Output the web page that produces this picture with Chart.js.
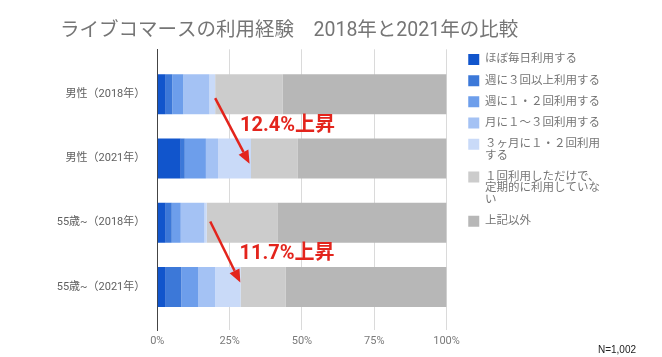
<!DOCTYPE html>
<html><head><meta charset="utf-8">
<script src="https://cdn.jsdelivr.net/npm/chart.js@4"></script>
<style>html,body{margin:0;padding:0;background:#fff;overflow:hidden}</style>
</head><body>
<canvas id="c" width="662" height="357"></canvas>
<script>
// ---- data ----
const categories = ['男性（2018年）', '男性（2021年）', '55歳~（2018年）', '55歳~（2021年）'];
const seriesNames = [
  'ほぼ毎日利用する',
  '週に３回以上利用する',
  '週に１・２回利用する',
  '月に１〜３回利用する',
  '３ヶ月に１・２回利用\nする',
  '１回利用しただけで、\n定期的に利用していな\nい',
  '上記以外'
];
const almostDaily   = [2.9, 8.1, 2.9, 2.9];
const weekly3plus   = [2.3, 1.4, 2.1, 5.4];
const weekly1to2    = [3.8, 7.3, 3.1, 5.9];
const monthly1to3   = [9.0, 4.2, 8.2, 5.8];
const quarterly1to2 = [2.0, 11.4, 0.8, 8.8];
const onceOnly      = [23.4, 16.2, 24.4, 15.5];
const otherAnswers  = [56.6, 51.4, 58.5, 55.7];
const xTicks = [0, 25, 50, 75, 100];
const titleText = 'ライブコマースの利用経験　2018年と2021年の比較';
const noteText = 'N=1,002';
const riseLabels = ['12.4%上昇', '11.7%上昇'];

// ---- styles ----
const seriesValues = [almostDaily, weekly3plus, weekly1to2, monthly1to3, quarterly1to2, onceOnly, otherAnswers];
const colors = ['#1155cc', '#3c78d8', '#6d9eeb', '#a4c2f4', '#c9daf8', '#cccccc', '#b7b7b7'];
const FONT = "Roboto, 'Noto Sans CJK JP', sans-serif";

const datasets = seriesValues.map((vals, s) => ({
  label: seriesNames[s],
  data: vals.map((v, i) => ({ x: v, y: i })),
  backgroundColor: colors[s],
  borderWidth: 0,
  categoryPercentage: 1,
  barPercentage: 0.625
}));

// annotation anchors in data coordinates (x: %, y: row index)
const annotations = [
  { text: riseLabels[0], from: [20.0, 0.06], to: [31.9, 1.08], at: [28.6, 0.5] },
  { text: riseLabels[1], from: [18.3, 1.98], to: [28.7, 2.93], at: [28.4, 2.48] }
];

const annotationPlugin = {
  id: 'arrows',
  beforeLayout(chart) {
    const lg = chart.legend;
    if (lg && !lg._wide) {
      const orig = lg.update;
      lg.update = function (w, h, m) { return orig.call(this, 260, h, m); };
      lg._wide = true;
    }
  },
  afterDatasetsDraw(chart) {
    const { ctx, scales: { x, y } } = chart;
    ctx.save();
    annotations.forEach(a => {
      const x1 = x.getPixelForValue(a.from[0]), y1 = y.getPixelForValue(a.from[1]);
      const x2 = x.getPixelForValue(a.to[0]), y2 = y.getPixelForValue(a.to[1]);
      const ang = Math.atan2(y2 - y1, x2 - x1);
      const head = 13, half = 5.5;
      const bx = x2 - head * Math.cos(ang), by = y2 - head * Math.sin(ang);
      ctx.strokeStyle = '#e3241c';
      ctx.fillStyle = '#e3241c';
      ctx.lineWidth = 2.5;
      ctx.beginPath(); ctx.moveTo(x1, y1); ctx.lineTo(bx, by); ctx.stroke();
      ctx.beginPath();
      ctx.moveTo(x2, y2);
      ctx.lineTo(bx + half * Math.sin(ang), by - half * Math.cos(ang));
      ctx.lineTo(bx - half * Math.sin(ang), by + half * Math.cos(ang));
      ctx.closePath(); ctx.fill();
      ctx.font = 'bold 20px ' + FONT;
      ctx.textAlign = 'left'; ctx.textBaseline = 'middle';
      ctx.fillText(a.text, x.getPixelForValue(a.at[0]), y.getPixelForValue(a.at[1]));
    });
    ctx.font = "10px 'Liberation Sans', Arial, sans-serif";
    ctx.fillStyle = '#222';
    ctx.textAlign = 'right'; ctx.textBaseline = 'middle';
    ctx.fillText(noteText, 636, 350);
    ctx.restore();
  }
};

new Chart(document.getElementById('c'), {
  type: 'bar',
  data: { datasets },
  plugins: [annotationPlugin],
  options: {
    indexAxis: 'y',
    responsive: false,
    animation: false,
    devicePixelRatio: 1,
    layout: { padding: { left: 60, right: 52, top: 0, bottom: 7 } },
    scales: {
      x: {
        type: 'linear', stacked: true, min: 0, max: 100,
        afterBuildTicks: s => { s.ticks = xTicks.map(v => ({ value: v })); },
        afterFit: s => { s.height = 20; },
        ticks: { callback: v => v + '%', color: '#7a7a7a', font: { family: FONT, size: 11 }, padding: 5, maxRotation: 0 },
        grid: { color: c => (c.tick && c.tick.value === 0) ? 'rgba(0,0,0,0)' : '#dadada', drawTicks: false, lineWidth: 1 },
        border: { display: false }
      },
      y: {
        type: 'linear', stacked: true, reverse: true, min: -0.7, max: 3.67, offset: false,
        afterBuildTicks: s => { s.ticks = categories.map((_, i) => ({ value: i })); },
        afterFit: s => { s.width = 97.3; },
        afterUpdate: s => { s._computeLabelArea = () => undefined; },
        ticks: { callback: v => categories[v], color: '#606060', font: { family: FONT, size: 11 }, padding: 12 },
        grid: { display: false, drawTicks: false, offset: false },
        border: { display: true, color: '#444', width: 1 }
      },
      gap: {
        type: 'linear', position: 'right', display: true,
        afterFit: s => { s.width = 12; },
        ticks: { display: false },
        grid: { display: false, drawTicks: false },
        border: { display: false }
      }
    },
    plugins: {
      tooltip: { enabled: false },
      title: {
        display: true, text: titleText, align: 'start', color: '#757575',
        font: { family: FONT, size: 19.5, weight: 'normal', lineHeight: 1.2 },
        padding: { top: 19, bottom: 6.9 }
      },
      legend: {
        position: 'right', align: 'start',
        title: { display: true, text: '', font: { size: 10, lineHeight: 1 }, padding: { top: 34, bottom: 0 } },
        labels: {
          boxWidth: 11, boxHeight: 11, padding: 9.7, color: '#757575',
          font: { family: FONT, size: 11.5, lineHeight: 1 },
          generateLabels: chart => Chart.defaults.plugins.legend.labels.generateLabels(chart).map(it => {
            const parts = it.text.split('\n');
            it.text = parts.length > 1 ? parts : parts[0];
            it.lineWidth = 0;
            return it;
          })
        }
      }
    }
  }
});
</script>
</body></html>
